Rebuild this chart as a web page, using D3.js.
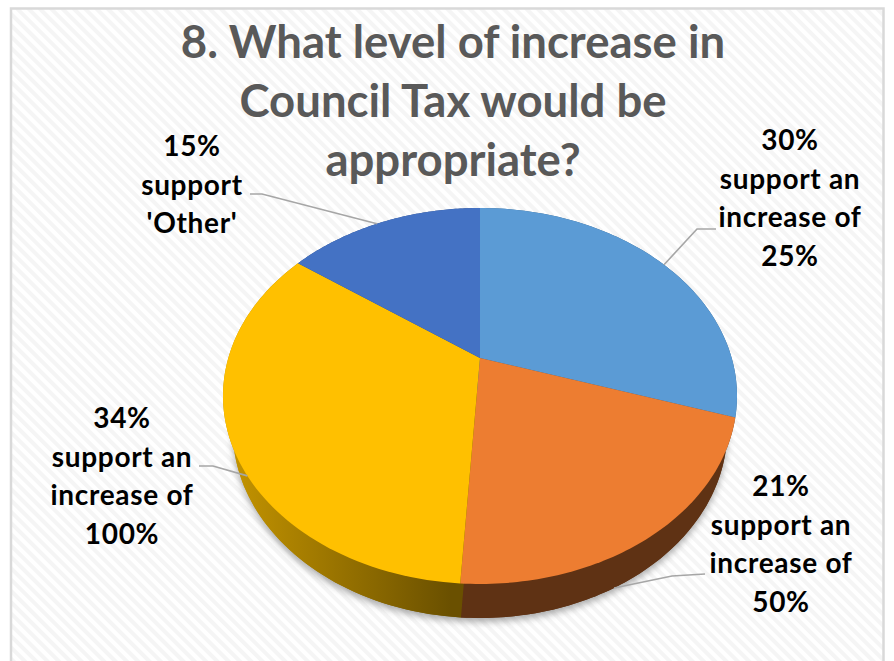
<!DOCTYPE html>
<html>
<head>
<meta charset="utf-8">
<script src="https://cdnjs.cloudflare.com/ajax/libs/d3/7.8.5/d3.min.js"></script>
<style>
html,body{margin:0;padding:0;background:#fff}
svg{display:block}
text{font-family:Lato,"Open Sans",sans-serif;font-weight:700}
</style>
</head>
<body>
<svg id="chart" width="894" height="661"></svg>
<script>
const categories = ["support an increase of 25%", "support an increase of 50%", "support an increase of 100%", "support 'Other'"];
const shares = [30, 21, 34, 15];
const topColors = ["#5b9bd5", "#ed7d31", "#ffc000", "#4472c4"];
const sideColors = ["#2f5f8a", "#5f3214", "url(#yellowSide)", "#2a4780"];
const titleLines = ["8. What level of increase in", "Council Tax would be", "appropriate?"];
const labelLines = [
  ["30%", "support an", "increase of", "25%"],
  ["21%", "support an", "increase of", "50%"],
  ["34%", "support an", "increase of", "100%"],
  ["15%", "support", "'Other'"]
];

const svg = d3.select("#chart");
const defs = svg.append("defs");

// Faint diagonal hatching of the chart area
const hatch = defs.append("pattern").attr("id", "hatch")
  .attr("width", 8).attr("height", 8).attr("patternUnits", "userSpaceOnUse")
  .attr("patternTransform", "rotate(45)");
hatch.append("rect").attr("width", 8).attr("height", 8).attr("fill", "#ffffff");
hatch.append("rect").attr("width", 8).attr("height", 4).attr("fill", "#f5f5f5");

const yellowGrad = defs.append("linearGradient").attr("id", "yellowSide")
  .attr("gradientUnits", "userSpaceOnUse")
  .attr("x1", 240).attr("x2", 451).attr("y1", 0).attr("y2", 0);
yellowGrad.append("stop").attr("offset", 0).attr("stop-color", "#c09100");
yellowGrad.append("stop").attr("offset", 1).attr("stop-color", "#6a5000");

const blur = defs.append("filter").attr("id", "soft")
  .attr("x", "-10%").attr("y", "-10%").attr("width", "120%").attr("height", "120%");
blur.append("feGaussianBlur").attr("stdDeviation", 3.5);

svg.append("rect").attr("width", 894).attr("height", 661).attr("fill", "#fff");
svg.append("path")
  .attr("d", "M11,661V8.5H883.5V661")
  .attr("fill", "url(#hatch)")
  .attr("stroke", "#d9d9d9").attr("stroke-width", 2.5);

// Tilted disc: a circle seen in perspective, with its hub above the ellipse centre
const hub = {x: 480, y: 358};
const view = {a: 251.7, b: 180.3, k: -0.202};
function project(angle, scale = 1, dy = 0) {
  const u = Math.sin(angle), v = -Math.cos(angle);
  const den = 1 + view.k * v;
  return [
    hub.x + scale * view.a * u / den,
    hub.y + (view.b * v / den) + dy
  ];
}
const depth = {scale: 0.962, dy: 34};

const arcs = d3.pie().sort(null).value(d => d)(shares);
const sweep = (a0, a1) => d3.range(0, 1.0001, 1 / 80).map(t => a0 + (a1 - a0) * t);
const line = d3.line();

const fullTurn = sweep(0, 2 * Math.PI);
const rimLow = fullTurn.map(a => project(a, depth.scale, depth.dy));

// Soft shadow beneath the lower rim
svg.append("path")
  .attr("d", line(rimLow) + "Z")
  .attr("transform", "translate(0,4)")
  .attr("fill", "#8c8c8c").attr("opacity", 0.75)
  .attr("filter", "url(#soft)");

// Side wall of each slice, front-facing parts show below the top face
svg.append("g").selectAll("path").data(arcs).join("path")
  .attr("d", d => {
    const angles = sweep(d.startAngle, d.endAngle);
    const upper = angles.map(a => project(a));
    const lower = angles.map(a => project(a, depth.scale, depth.dy)).reverse();
    return line(upper.concat(lower)) + "Z";
  })
  .attr("fill", (d, i) => sideColors[i]);
svg.append("g").selectAll("path").data(arcs).join("path")
  .attr("d", d => {
    const angles = sweep(d.startAngle, d.endAngle);
    return line(angles.map(a => project(a, depth.scale, depth.dy)).concat([[hub.x, hub.y + depth.dy]])) + "Z";
  })
  .attr("fill", (d, i) => sideColors[i]);

// Top face
svg.append("g").selectAll("path").data(arcs).join("path")
  .attr("d", d => line([[hub.x, hub.y]].concat(sweep(d.startAngle, d.endAngle).map(a => project(a)))) + "Z")
  .attr("fill", (d, i) => topColors[i]);

// Title
svg.append("g").selectAll("text").data(titleLines).join("text")
  .attr("x", 453).attr("y", (d, i) => 58 + i * 59)
  .attr("text-anchor", "middle")
  .attr("font-size", 45.5).attr("fill", "#595959")
  .text(d => d);

// Leader lines, each ending on the rim of its slice
const leaders = [
  {at: 0.152, elbow: [697, 229], end: [716, 229]},
  {at: 0.425, elbow: [672, 576], end: [705, 574], low: true},
  {at: 0.652, elbow: [213, 466], end: [199, 466]},
  {at: 0.92, elbow: [262, 194], end: [250, 194]}
];
svg.append("g").selectAll("path").data(leaders).join("path")
  .attr("d", d => {
    const a = d.at * 2 * Math.PI;
    const start = d.low ? project(a, depth.scale, depth.dy) : project(a);
    return line([start, d.elbow, d.end]);
  })
  .attr("fill", "none").attr("stroke", "#a6a6a6").attr("stroke-width", 1.6);

// Data labels
const labelBoxes = [{x: 790, y: 150}, {x: 781, y: 496}, {x: 122, y: 428}, {x: 192, y: 156}];
const labels = svg.append("g").selectAll("g").data(labelLines).join("g")
  .attr("transform", (d, i) => `translate(${labelBoxes[i].x},${labelBoxes[i].y})`);
labels.selectAll("text").data(d => d).join("text")
  .attr("y", (d, i) => i * 38.7)
  .attr("text-anchor", "middle")
  .attr("font-size", 28).attr("letter-spacing", 0.7).attr("fill", "#000")
  .text(d => d);
</script>
</body>
</html>
